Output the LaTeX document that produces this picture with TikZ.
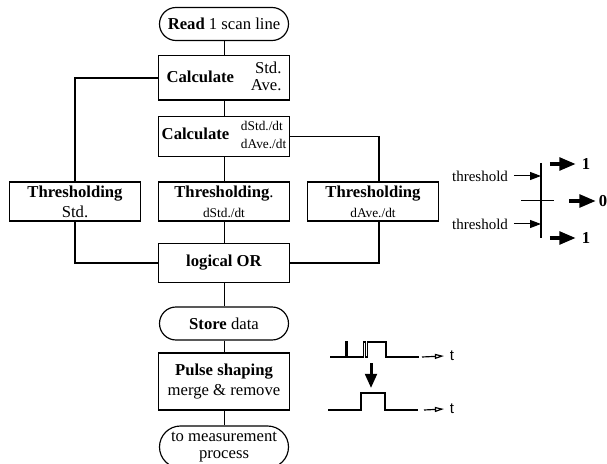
\documentclass[tikz,border=0pt]{standalone}
\usepackage{fontspec}
\setmainfont{Liberation Serif}
\setsansfont{Liberation Sans}
\usetikzlibrary{positioning,arrows.meta}
\tikzset{
  box/.style={draw, line width=0.7pt, minimum width=78.6pt, minimum height=23.4pt, inner sep=2pt, align=center},
  term/.style={draw, line width=0.7pt, rounded corners=9.9pt, minimum width=77.4pt, minimum height=19.8pt, inner sep=1pt, align=center},
  link/.style={line width=0.6pt},
  branch/.style={line width=1.1pt},
  bar/.style={line width=1.3pt},
  wave/.style={line width=1pt},
  thinarrow/.style={line width=0.6pt, -{Triangle[length=6.6pt,width=4.8pt]}},
  fatarrow/.style={line width=2.4pt, -{Triangle[length=10pt,width=7.5pt]}},
  downarrow/.style={line width=1.8pt, -{Triangle[length=8.5pt,width=7pt]}},
  timearrow/.style={line width=0.7pt, -{Triangle[open,length=5.5pt,width=3pt]}}
}
\begin{document}
\begin{tikzpicture}[x=0.6pt, y=-0.6pt]
  \useasboundingbox (0,0) rectangle (607,464);
  \node (read) [term] at (224,24) {\textbf{Read} 1 scan line};
  \node (calc) [box, below of=read, node distance=32.4pt] {\textbf{Calculate}\hspace{10pt}\begin{tabular}{@{}r@{}}Std.\\[-1.5pt]Ave.\end{tabular}};
  \node (dcalc) [box, below of=calc, node distance=35.1pt] {\textbf{Calculate}\hspace{7pt}{\footnotesize\begin{tabular}{@{}l@{}}dStd./dt\\[1pt]dAve./dt\end{tabular}}};
  \node (thrD) [box, below of=dcalc, node distance=39pt] {\textbf{Thresholding}.\\{\footnotesize dStd./dt}};
  \node (thrS) [box, left of=thrD, node distance=89.4pt] {\textbf{Thresholding}\\Std.};
  \node (thrA) [box, right of=thrD, node distance=89.4pt] {\textbf{Thresholding}\\{\footnotesize dAve./dt}};
  \node (or) [box, below of=thrD, node distance=36.9pt] {\textbf{logical OR}};
  \node (store) [term, below of=or, node distance=36.3pt] {\textbf{Store} data};
  \node (pulse) [box, below of=store, node distance=34.8pt, minimum height=34.2pt] {\textbf{Pulse shaping}\\merge \& remove};
  \node (out) [term, below of=pulse, node distance=39.3pt, minimum height=25.2pt, rounded corners=12.6pt, minimum width=77.4pt] {to measurement\\[-1.5pt]process};
  \draw[link] (read) -- (calc);
  \draw[link] (calc) -- (dcalc);
  \draw[link] (dcalc) -- (thrD);
  \draw[branch] (calc.west) -| (thrS.north);
  \draw[branch] (dcalc.east) -| ([xshift=3.6pt]thrA.north);
  \draw[link] (thrD) -- (or);
  \draw[branch] (thrS.south) |- (or.west);
  \draw[branch] ([xshift=3.6pt]thrA.south) |- (or.east);
  \draw[link] (or) -- (store);
  \draw[link] (store) -- (pulse);
  \draw[link] (pulse) -- (out);

  \node (thlabA) [font=\small] at (480,176) {threshold};
  \node (thlabB) [font=\small] at (480,224) {threshold};
  \coordinate (barT) at (541,163);
  \coordinate (barB) at (541,238);
  \coordinate (crossL) at (521,201);
  \coordinate (crossR) at (554,201);
  \draw[bar] (barT) -- (barB);
  \draw[link] (crossL) -- (crossR);
  \draw[thinarrow] (thlabA.east) -- (thlabA.east -| barT);
  \draw[thinarrow] (thlabB.east) -- (thlabB.east -| barT);
  \node (oneA) [font=\bfseries] at (586,164) {1};
  \node (zero) [font=\bfseries, inner sep=1.5pt] at (603,201) {0};
  \node (oneB) [font=\bfseries] at (586,238) {1};
  \draw[fatarrow] ([xshift=-15.6pt]oneA.west) -- (oneA.west);
  \draw[fatarrow] ([xshift=-16.2pt]zero.west) -- (zero.west);
  \draw[fatarrow] ([xshift=-15.6pt]oneB.west) -- (oneB.west);

  \draw[wave] (330,357) -- (346,357) -- (346,342) -- (347.5,342) -- (347.5,357) -- (363.5,357) -- (363.5,342) -- (365.5,342) -- (365.5,357) -- (367.5,357) -- (367.5,342) -- (386,342) -- (386,357) -- (419,357);
  \node (tA) [font=\sffamily\small] at (452,356) {t};
  \draw[timearrow] (422,357) -- (tA.west);
  \draw[downarrow] (371,363) -- (371,388);
  \draw[wave] (328,410) -- (361,410) -- (361,393) -- (385,393) -- (385,410) -- (418,410);
  \node (tB) [font=\sffamily\small] at (452,409) {t};
  \draw[timearrow] (424,410) -- (tB.west);
\end{tikzpicture}
\end{document}
